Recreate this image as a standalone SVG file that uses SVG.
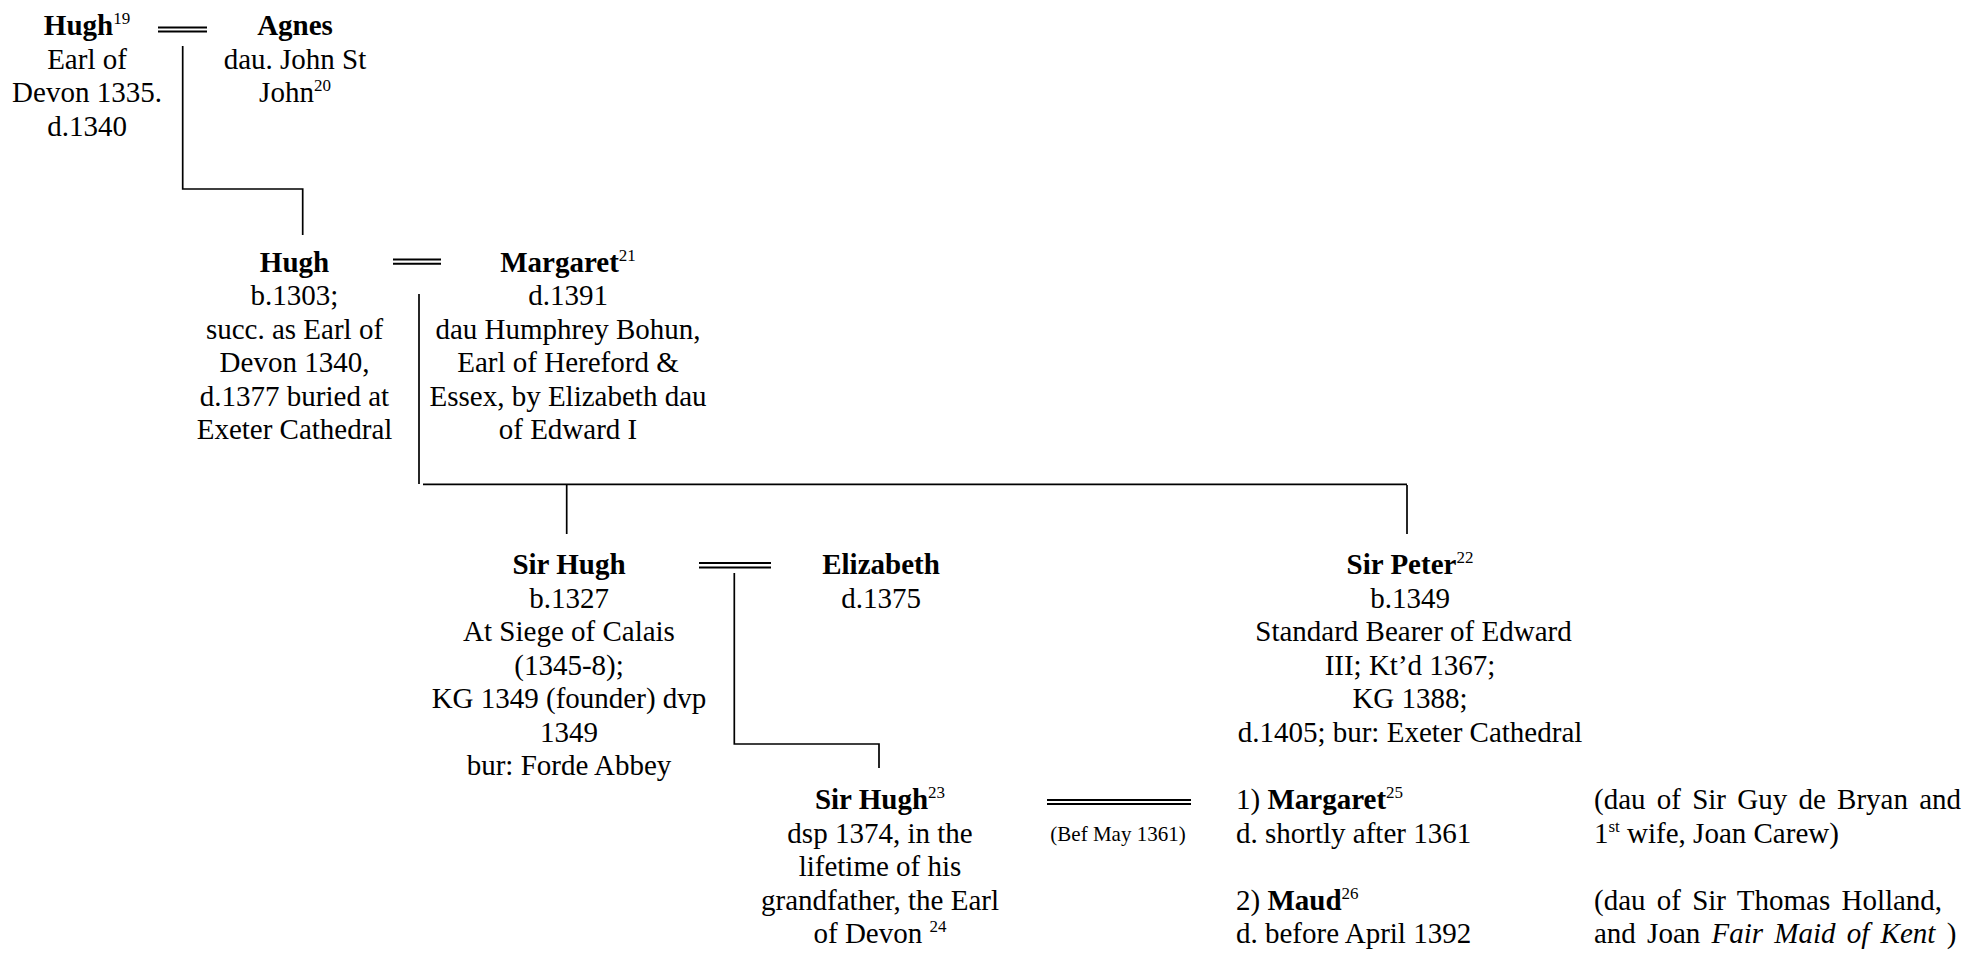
<svg xmlns="http://www.w3.org/2000/svg" width="1966" height="953" viewBox="0 0 1966 953">
<style>
.t { font-family: "Liberation Serif", "Times New Roman", serif; font-size: 29px; fill: #000; }
.c { text-anchor: middle; }
.b { font-weight: bold; }
.sup { font-size: 17px; font-weight: normal; }
.i { font-style: italic; }
.small { font-size: 21px; }
.ws { word-spacing: 4px; }
.ln { stroke: #000; stroke-width: 1.7; fill: none; }
.mar { stroke: #000; stroke-width: 2; fill: none; }
</style>
<rect width="1966" height="953" fill="#fff"/>
<g id="connectors">
  <path class="mar" d="M158 27.5H207M158 31.5H207"/>
  <path class="ln" d="M182.7 46V189H302.7V235"/>
  <path class="mar" d="M393 259.5H441M393 263.7H441"/>
  <path class="ln" d="M419 294V484"/>
  <path class="ln" d="M423 484.3H1407"/>
  <path class="ln" d="M566.7 485V534"/>
  <path class="ln" d="M1407 485V534"/>
  <path class="mar" d="M699 563H771M699 567.5H771"/>
  <path class="ln" d="M734.3 573V744H879V768"/>
  <path class="mar" d="M1047 800H1191M1047 804H1191"/>
</g>
<g id="hugh1">
  <text class="t c"><tspan x="87" y="35"><tspan class="b">Hugh</tspan><tspan class="sup" dy="-11">19</tspan></tspan><tspan x="87" y="68.5">Earl of</tspan><tspan x="87" y="102">Devon 1335.</tspan><tspan x="87" y="135.5">d.1340</tspan></text>
</g>
<g id="agnes">
  <text class="t c"><tspan x="295" y="35" class="b">Agnes</tspan><tspan x="295" y="68.5">dau. John St</tspan><tspan x="295" y="102">John<tspan class="sup" dy="-11">20</tspan></tspan></text>
</g>
<g id="hugh2">
  <text class="t c"><tspan x="294.5" y="271.5" class="b">Hugh</tspan><tspan x="294.5" y="305">b.1303;</tspan><tspan x="294.5" y="338.5">succ. as Earl of</tspan><tspan x="294.5" y="372">Devon 1340,</tspan><tspan x="294.5" y="405.5">d.1377 buried at</tspan><tspan x="294.5" y="439">Exeter Cathedral</tspan></text>
</g>
<g id="margaret1">
  <text class="t c"><tspan x="568" y="271.5"><tspan class="b">Margaret</tspan><tspan class="sup" dy="-11">21</tspan></tspan><tspan x="568" y="305">d.1391</tspan><tspan x="568" y="338.5">dau Humphrey Bohun,</tspan><tspan x="568" y="372">Earl of Hereford &amp;</tspan><tspan x="568" y="405.5">Essex, by Elizabeth dau</tspan><tspan x="568" y="439">of Edward I</tspan></text>
</g>
<g id="sirhugh1">
  <text class="t c"><tspan x="569" y="574" class="b">Sir Hugh</tspan><tspan x="569" y="607.5">b.1327</tspan><tspan x="569" y="641">At Siege of Calais</tspan><tspan x="569" y="674.5">(1345-8);</tspan><tspan x="569" y="708">KG 1349 (founder) dvp</tspan><tspan x="569" y="741.5">1349</tspan><tspan x="569" y="775">bur: Forde Abbey</tspan></text>
</g>
<g id="elizabeth">
  <text class="t c"><tspan x="881" y="574" class="b">Elizabeth</tspan><tspan x="881" y="607.5">d.1375</tspan></text>
</g>
<g id="sirpeter">
  <text class="t c"><tspan x="1410" y="574"><tspan class="b">Sir Peter</tspan><tspan class="sup" dy="-11">22</tspan></tspan><tspan x="1410" y="607.5">b.1349</tspan><tspan x="1413.5" y="641">Standard Bearer of Edward</tspan><tspan x="1410" y="674.5">III; Kt’d 1367;</tspan><tspan x="1410" y="708">KG 1388;</tspan><tspan x="1410" y="741.5">d.1405; bur: Exeter Cathedral</tspan></text>
</g>
<g id="sirhugh2">
  <text class="t c"><tspan x="880" y="809"><tspan class="b">Sir Hugh</tspan><tspan class="sup" dy="-11">23</tspan></tspan><tspan x="880" y="842.5">dsp 1374, in the</tspan><tspan x="880" y="876">lifetime of his</tspan><tspan x="880" y="909.5">grandfather, the Earl</tspan><tspan x="880" y="943">of Devon <tspan class="sup" dy="-11">24</tspan></tspan></text>
</g>
<g id="marriage-date">
  <text class="t c small" x="1118" y="841">(Bef May 1361)</text>
</g>
<g id="margaret2">
  <text class="t"><tspan x="1236" y="809">1) <tspan class="b">Margaret</tspan><tspan class="sup" dy="-11">25</tspan></tspan><tspan x="1236" y="842.5">d. shortly after 1361</tspan></text>
  <text class="t"><tspan class="ws" x="1594" y="809">(dau of Sir Guy de Bryan and</tspan><tspan x="1594" y="842.5">1<tspan class="sup" dy="-11">st</tspan><tspan dy="11"> wife, Joan Carew)</tspan></tspan></text>
</g>
<g id="maud">
  <text class="t"><tspan x="1236" y="909.5">2) <tspan class="b">Maud</tspan><tspan class="sup" dy="-11">26</tspan></tspan><tspan x="1236" y="943">d. before April 1392</tspan></text>
  <text class="t ws"><tspan x="1594" y="909.5">(dau of Sir Thomas Holland,</tspan><tspan x="1594" y="943">and Joan <tspan class="i">Fair Maid of Kent</tspan> )</tspan></text>
</g>
</svg>
